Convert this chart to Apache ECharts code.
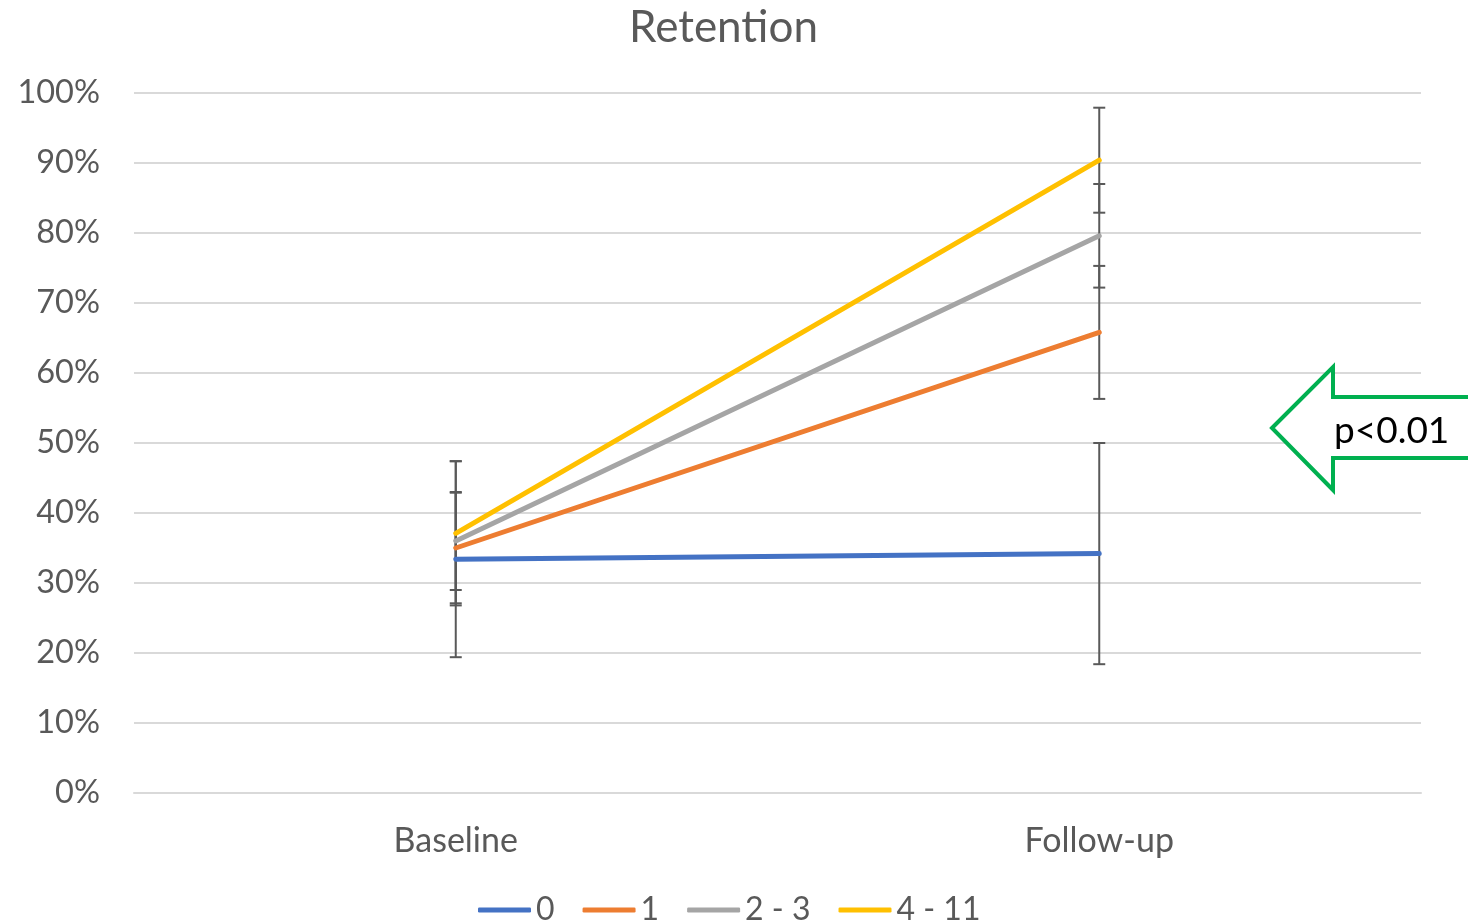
<!DOCTYPE html>
<html>
<head>
<meta charset="utf-8">
<script src="https://cdn.jsdelivr.net/npm/echarts@6/dist/echarts.min.js"></script>
<style>
html,body{margin:0;padding:0;background:#fff;}
#chart{width:1468px;height:924px;}
</style>
</head>
<body>
<div id="chart"></div>
<script>
var categories = ['Baseline', 'Follow-up'];
var seriesNames = ['0', '1', '2 - 3', '4 - 11'];
var colors = ['#4472C4', '#ED7D31', '#A5A5A5', '#FFC000'];
var values0 = [33.4, 34.2];
var values1 = [35.0, 65.8];
var values2 = [36.0, 79.6];
var values3 = [37.1, 90.4];
var err0 = [14.0, 15.8];
var err1 = [7.9, 9.5];
var err2 = [7.0, 7.4];
var err3 = [10.3, 7.5];
var yTicks = [0, 10, 20, 30, 40, 50, 60, 70, 80, 90, 100];

var allValues = [values0, values1, values2, values3];
var allErr = [err0, err1, err2, err3];
var FONT = 'Lato';
var TXT = '#595959';

var chart = echarts.init(document.getElementById('chart'));

var series = [];
allValues.forEach(function (vals, i) {
  series.push({
    name: seriesNames[i],
    type: 'line',
    data: vals,
    symbol: 'none',
    z: 3,
    lineStyle: { color: colors[i], width: 5, cap: 'round' },
    itemStyle: { color: colors[i] }
  });
});

allValues.forEach(function (vals, i) {
  var errData = vals.map(function (v, j) { return [j, v - allErr[i][j], v + allErr[i][j]]; });
  series.push({
    type: 'custom',
    name: 'err' + i,
    z: 2,
    silent: true,
    data: errData,
    renderItem: function (params, api) {
      var x = api.value(0);
      var lo = api.coord([x, api.value(1)]);
      var hi = api.coord([x, api.value(2)]);
      var half = 6;
      var st = { stroke: '#595959', lineWidth: 2 };
      return {
        type: 'group',
        children: [
          { type: 'line', shape: { x1: lo[0], y1: lo[1], x2: hi[0], y2: hi[1] }, style: st },
          { type: 'line', shape: { x1: lo[0] - half, y1: lo[1], x2: lo[0] + half, y2: lo[1] }, style: st },
          { type: 'line', shape: { x1: hi[0] - half, y1: hi[1], x2: hi[0] + half, y2: hi[1] }, style: st }
        ]
      };
    }
  });
});

chart.setOption({
  animation: false,
  backgroundColor: '#fff',
  title: {
    text: 'Retention',
    left: 624,
    top: 1,
    textStyle: { fontFamily: FONT, fontSize: 44, fontWeight: 'normal', color: TXT }
  },
  legend: {
    data: seriesNames,
    bottom: -7,
    left: 473,
    icon: 'roundRect',
    itemWidth: 53,
    itemHeight: 5,
    itemGap: 28,
    textStyle: { fontFamily: FONT, fontSize: 32, color: TXT, padding: [0, 0, 0, 0] }
  },
  grid: { left: 134, right: 47, top: 93, bottom: 131, containLabel: false },
  xAxis: {
    type: 'category',
    data: categories,
    boundaryGap: true,
    axisLine: { show: true, lineStyle: { color: '#d9d9d9', width: 2 } },
    axisTick: { show: false },
    axisLabel: { fontFamily: FONT, fontSize: 34, color: TXT, margin: 31 }
  },
  yAxis: {
    type: 'value',
    min: yTicks[0],
    max: yTicks[yTicks.length - 1],
    interval: 10,
    axisLine: { show: false },
    axisTick: { show: false },
    splitLine: { lineStyle: { color: '#d9d9d9', width: 2 } },
    axisLabel: { fontFamily: FONT, fontSize: 32.5, color: TXT, margin: 34, formatter: '{value}%' }
  },
  series: series,
  graphic: [
    {
      type: 'polygon',
      z: 10,
      shape: { points: [[1272, 428], [1333, 367], [1333, 397], [1472, 397], [1472, 458], [1333, 458], [1333, 490]] },
      style: { fill: '#fff', stroke: '#00B050', lineWidth: 4 }
    },
    {
      type: 'text',
      z: 11,
      left: 1334,
      top: 413,
      style: { text: 'p<0.01', fontFamily: FONT, fontSize: 37, fill: '#000' }
    }
  ]
});
</script>
</body>
</html>
